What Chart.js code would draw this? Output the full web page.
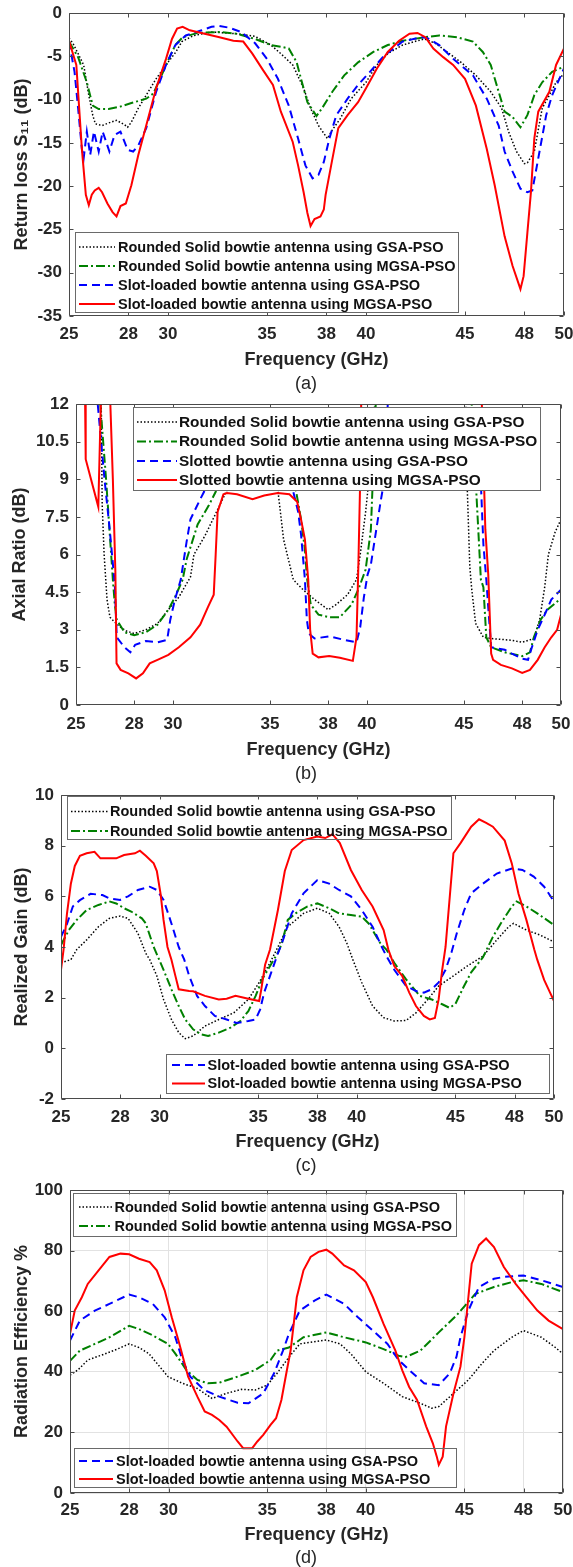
<!DOCTYPE html>
<html>
<head>
<meta charset="utf-8">
<title>Bowtie antenna comparison</title>
<script src="https://cdn.jsdelivr.net/npm/chart.js@4.4.1/dist/chart.umd.min.js"></script>
<style>
  body { margin: 0; background: #fff; }
  #page { position: relative; width: 573px; height: 1567px; overflow: hidden; background: #fff; }
  canvas { position: absolute; left: 0; }
  .cap { position: absolute; left: 276px; width: 60px; text-align: center; line-height: 20px;
         font: 18px "Liberation Sans", Arial, sans-serif; color: #262626; }
</style>
</head>
<body>
<div id="page">
  <canvas id="chartA" width="573" height="380" style="top:0px"></canvas>
  <div class="cap" style="top:373px">(a)</div>
  <canvas id="chartB" width="573" height="380" style="top:390px"></canvas>
  <div class="cap" style="top:763px">(b)</div>
  <canvas id="chartC" width="573" height="380" style="top:780px"></canvas>
  <div class="cap" style="top:1155px">(c)</div>
  <canvas id="chartD" width="573" height="380" style="top:1175px"></canvas>
  <div class="cap" style="top:1547px">(d)</div>
</div>
<script>
// shared axis ticks
const freqTicks = [25, 28, 30, 35, 38, 40, 45, 48, 50];
const s11Ticks = [-35, -30, -25, -20, -15, -10, -5, 0];
const arTicks = [0, 1.5, 3, 4.5, 6, 7.5, 9, 10.5, 12];
const gainTicks = [-2, 0, 2, 4, 6, 8, 10];
const effTicks = [0, 20, 40, 60, 80, 100];

const namesSlotLoaded = [
  'Rounded Solid bowtie antenna using GSA-PSO',
  'Rounded Solid bowtie antenna using MGSA-PSO',
  'Slot-loaded bowtie antenna using GSA-PSO',
  'Slot-loaded bowtie antenna using MGSA-PSO'
];
const namesSlotted = [
  'Rounded Solid bowtie antenna using GSA-PSO',
  'Rounded Solid bowtie antenna using MGSA-PSO',
  'Slotted bowtie antenna using GSA-PSO',
  'Slotted bowtie antenna using MGSA-PSO'
];

// (a) return loss S11, dB
const s11SolidGsaX = [25, 25.2, 25.46, 25.74, 26.0, 26.2, 26.33, 26.67, 27.0, 27.4, 27.8, 27.96, 28.15, 28.5, 28.9,
  29.4, 30.0, 30.4, 30.7, 31.3, 32.2, 33.5, 34.4, 35.2, 35.7, 36.3, 36.85, 37.2, 37.6, 38.05, 38.3, 38.7, 39.25, 40.0,
  40.55, 41.1, 41.85, 42.6, 42.96, 43.5, 44.1, 44.8, 45.55, 46.3, 46.85, 47.2, 47.6, 48.0, 48.15, 48.5, 48.9, 49.26, 49.6, 50];
const s11SolidGsaY = [-2.9, -3.5, -4.7, -6, -9.5, -11.8, -12.8, -13.0, -12.7, -12.4, -12.9, -13.2, -12.6, -11, -9.5,
  -7.6, -5.7, -4.5, -3.3, -2.6, -2.2, -2.4, -2.7, -3.7, -4.7, -6, -8.7, -11, -13, -14.5, -13.5, -12.2, -9.9, -8,
  -6, -4.7, -3.7, -3.2, -3, -3.5, -4.5, -5.7, -7.2, -9.1, -11, -13.7, -16, -17.4, -17.3, -16, -11, -9.5, -8, -7];

const s11SolidMgsaX = [25, 25.46, 25.9, 26.2, 26.5, 27.0, 27.6, 28.15, 28.9, 29.26, 29.6, 30, 30.37, 30.74, 31.5,
  32.6, 33.5, 34.4, 35.2, 35.7, 36.1, 36.5, 36.67, 37.04, 37.5, 37.78, 38.3, 38.9, 39.6, 40.37, 41.1, 41.85, 42.96,
  43.7, 44.6, 45.4, 45.9, 46.3, 46.7, 47.0, 47.4, 47.8, 48.15, 48.5, 48.9, 49.4, 50];
const s11SolidMgsaY = [-3.3, -5.1, -8, -10.7, -11.1, -11.1, -10.8, -10.4, -9.9, -9.3, -7.6, -5.5, -3.7, -2.8, -2.3,
  -2.2, -2.4, -3, -3.7, -3.9, -4.1, -5.7, -7.2, -10.3, -11.9, -11, -9.1, -7.2, -5.7, -4.5, -3.7, -3.2, -2.8,
  -2.6, -2.8, -3.3, -4.5, -6, -9.1, -11.4, -12, -13.2, -11.8, -9.5, -8, -6.8, -6.2];

const s11SlotGsaX = [25, 25.28, 25.46, 25.65, 25.74, 25.9, 26.07, 26.26, 26.5, 26.7, 27.04, 27.3, 27.6, 27.96, 28.24,
  28.5, 28.9, 29.4, 29.9, 30.37, 30.9, 31.7, 32.2, 32.6, 33.1, 33.7, 34.4, 35, 35.55, 36.1, 36.57, 36.94, 37.3, 37.6,
  37.87, 38.15, 38.5, 39.07, 39.6, 40.2, 40.93, 41.85, 42.8, 43.1, 43.7, 44.4, 45.4, 46.1, 46.7, 47.0, 47.4, 47.8,
  48.15, 48.4, 48.7, 49.1, 49.4, 50];
const s11SlotGsaY = [-3.3, -6.8, -11, -15.7, -16.8, -13.7, -16.4, -13.7, -16, -13.7, -16, -14.1, -13.7, -15.8, -16,
  -15.3, -13.3, -9.1, -6, -3.7, -2.6, -2, -1.6, -1.5, -1.7, -2.2, -3.5, -5.3, -7.6, -10.7, -14.5, -17.6, -19.1, -18.7,
  -17.2, -14.5, -11.8, -9.9, -8.3, -6.8, -4.9, -3.3, -2.8, -2.9, -3.7, -5.3, -7.2, -9.9, -13, -16, -18.3, -20.3,
  -20.7, -20.5, -16.8, -11.8, -9.5, -6.4];

const s11SlotMgsaX = [25, 25.37, 25.65, 25.85, 26.0, 26.15, 26.3, 26.5, 26.67, 26.94, 27.2, 27.4, 27.6, 27.87, 28.15,
  28.5, 28.9, 29.4, 29.9, 30.2, 30.46, 30.74, 31.1, 31.85, 32.6, 33.3, 33.8, 34.26, 34.8, 35.3, 35.7, 36.3, 36.57,
  36.85, 37.04, 37.2, 37.4, 37.7, 37.87, 37.96, 38.24, 38.6, 39.07, 39.6, 40, 40.55, 41.1, 41.67, 42.2, 42.6, 43.0,
  43.4, 43.9, 44.4, 45, 45.55, 46.1, 46.5, 47.0, 47.4, 47.8, 47.96, 48.15, 48.33, 48.5, 48.7, 49.26, 49.6, 50];
const s11SlotMgsaY = [-3.2, -6, -15.7, -21, -22.2, -21, -20.5, -20.2, -20.7, -22, -23, -23.5, -22.3, -22, -19.9,
  -16.4, -13, -8.7, -5.3, -3, -1.8, -1.6, -2, -2.4, -2.8, -3.2, -3.3, -4.7, -6.6, -8.3, -11.4, -14.9, -17.6,
  -20.7, -23.1, -24.6, -23.8, -23.5, -22.7, -21, -17.6, -13.3, -11.8, -10.3, -8.7, -6.4, -4.5, -3.2, -2.4, -2.3, -2.8,
  -4.1, -5.1, -6, -7.6, -10.7, -15.7, -19.9, -25.8, -29.2, -31.9, -30.4, -25.4, -20.7, -14.5, -11.4, -9.1, -6, -4.1];

// (b) axial ratio, dB (values above 12 run off the top of the axes)
const arSolidGsaX = [25, 26.2, 26.35, 26.45, 26.6, 26.75, 27.0, 27.3, 27.6, 28.0, 28.6, 29.2, 29.76, 30.3, 30.9,
  31.08, 31.65, 32.4, 32.8, 33.05, 33.5, 34.5, 35.2, 35.4, 35.7, 36.2, 36.7, 37.3, 38.0, 38.4, 39.0, 39.46, 39.65,
  39.93, 40.1, 40.4, 40.6, 45.0, 45.1, 45.17, 45.3, 45.4, 45.6, 46.0, 46.4, 47.47, 48.0, 48.6, 48.9, 49.16, 49.35, 49.7, 50];
const arSolidGsaY = [20, 20, 8, 6, 4.2, 3.5, 3.3, 3.1, 2.95, 2.85, 3.0, 3.25, 3.8, 4.3, 5.1,
  6.0, 6.75, 7.95, 8.6, 9.1, 11, 11.5, 9.5, 8.6, 6.6, 5.0, 4.6, 4.2, 3.8, 4.0, 4.4, 5.0, 6.0,
  7.7, 9, 12, 20, 20, 12, 8.6, 5.5, 4.6, 3.25, 2.7, 2.65, 2.58, 2.5, 2.65, 3.4, 4.7, 6.0, 6.9, 7.4];

const arSolidMgsaX = [25, 26.1, 26.25, 26.55, 26.9, 27.0, 27.1, 27.5, 28.0, 28.6, 29.2, 29.76, 30.1, 30.5, 30.7,
  31.27, 31.84, 32.2, 33, 35.5, 36.35, 36.6, 36.8, 36.9, 37.1, 37.5, 38.05, 38.6, 39.2, 39.55, 39.93, 40.2, 40.45,
  40.6, 45.2, 45.4, 45.6, 45.87, 46.0, 46.15, 46.4, 47.1, 48.0, 48.4, 48.6, 48.95, 49.3, 50];
const arSolidMgsaY = [20, 20, 12, 9, 5.0, 4.0, 3.4, 2.9, 2.78, 2.9, 3.2, 3.8, 4.3, 5.0, 5.8,
  7.2, 7.95, 8.5, 11, 11, 8.5, 7.4, 6.2, 5.1, 4.0, 3.6, 3.5, 3.5, 4.0, 4.6, 5.4, 7.0, 12,
  20, 20, 12, 9, 5.0, 4.7, 2.7, 2.3, 2.1, 1.95, 2.1, 2.7, 3.4, 3.8, 4.25];

const arSlotGsaX = [25, 26.0, 26.12, 26.47, 26.75, 26.94, 27.0, 27.1, 27.5, 27.8, 28.05, 28.6, 29.2, 29.7, 29.86,
  30.1, 30.4, 30.7, 30.9, 31.4, 31.6, 32.5, 35.5, 36.2, 36.45, 36.6, 36.8, 36.9, 37.0, 37.3, 38.05, 38.8, 39.46,
  39.65, 39.84, 40.03, 40.2, 40.7, 40.9, 41.07, 41.2, 45.5, 45.7, 46.0, 46.15, 46.24, 46.4, 47.1, 47.47, 48.0,
  48.3, 48.5, 48.8, 49.16, 49.5, 50];
const arSlotGsaY = [20, 20, 12, 9.0, 6.9, 5.3, 4.8, 2.7, 2.3, 2.1, 2.4, 2.55, 2.5, 2.6, 3.4,
  4.2, 5.0, 6.5, 7.4, 8.2, 8.5, 11, 11, 8.5, 7.7, 6.8, 5.0, 3.4, 2.85, 2.65, 2.74, 2.6, 2.5,
  3.1, 4.3, 5.2, 5.6, 8.1, 9, 12, 20, 20, 12, 6.4, 5.0, 4.0, 2.3, 2.2, 2.05, 1.85,
  1.8, 2.3, 3.0, 3.6, 4.2, 4.6];

const arSlotMgsaX = [25, 25.42, 25.47, 25.5, 26.15, 26.28, 26.32, 26.7, 26.77, 26.9, 27.03, 27.09, 27.3, 27.7, 28.1,
  28.45, 28.8, 29.2, 29.76, 30.3, 30.9, 31.4, 31.8, 32.1, 32.2, 32.3, 32.6, 32.78, 33.3, 34.1, 34.7, 35.4, 36.0,
  36.4, 36.6, 36.8, 36.97, 37.07, 37.2, 37.5, 38.05, 38.6, 39.27, 39.46, 39.55, 39.65, 39.7, 39.75, 45.85, 45.92,
  46.1, 46.25, 46.4, 46.5, 46.9, 47.47, 48.0, 48.4, 48.8, 49.16, 49.5, 49.8, 50];
const arSlotMgsaY = [20, 20, 12, 9.8, 7.9, 12, 20, 20, 12, 9, 5.3, 1.66, 1.4, 1.26, 1.06,
  1.26, 1.66, 1.8, 2.0, 2.3, 2.7, 3.2, 3.9, 4.4, 6.0, 7.7, 8.4, 8.45, 8.4, 8.2, 8.35, 8.45, 8.4,
  8.1, 7.4, 6.6, 5.0, 3.0, 2.05, 1.9, 1.95, 1.88, 1.76, 2.7, 5.4, 9, 12, 20, 20, 12,
  7, 5.2, 2.05, 1.8, 1.6, 1.46, 1.28, 1.4, 1.8, 2.3, 2.7, 3.0, 3.6];

// (c) realized gain, dB
const gainSolidGsaX = [25, 25.5, 25.8, 26.3, 26.9, 27.45, 28.0, 28.4, 28.9, 29.3, 29.5, 29.86, 30.2, 30.6, 30.97,
  31.3, 31.7, 32.3, 33.0, 33.76, 34.5, 35.05, 35.6, 36.0, 36.5, 37.3, 38.0, 38.6, 39.1, 39.5, 39.8, 40.25, 40.8,
  41.36, 41.9, 42.5, 43.0, 43.6, 44.15, 44.9, 45.6, 46.4, 47.1, 47.7, 47.95, 48.6, 49.3, 50];
const gainSolidGsaY = [3.38, 3.5, 3.9, 4.28, 4.8, 5.13, 5.22, 5.13, 4.54, 3.75, 3.5, 2.86, 1.93, 1.14, 0.62,
  0.38, 0.49, 0.88, 1.14, 1.4, 1.93, 2.6, 3.38, 4.0, 4.8, 5.33, 5.53, 5.33, 4.8, 4.14, 3.5, 2.6, 1.67,
  1.21, 1.08, 1.1, 1.4, 1.93, 2.46, 2.86, 3.25, 3.64, 4.28, 4.8, 4.93, 4.67, 4.47, 4.2];

const gainSolidMgsaX = [25, 25.4, 25.8, 26.3, 26.9, 27.45, 27.8, 28.2, 28.56, 29.1, 29.3, 29.7, 30.2, 30.6, 30.97,
  31.3, 31.7, 32.1, 32.46, 33.0, 33.6, 34.1, 34.5, 34.87, 35.2, 35.6, 36.0, 36.2, 36.5, 36.9, 37.5, 38.0, 38.6,
  39.1, 39.7, 40.25, 40.6, 41.2, 41.5, 41.9, 42.5, 43.2, 43.8, 44.33, 44.7, 45.0, 45.4, 45.8, 46.4, 46.9, 47.3,
  47.86, 48.1, 48.6, 49.15, 50];
const gainSolidMgsaY = [4.08, 4.67, 5.07, 5.46, 5.66, 5.8, 5.72, 5.53, 5.4, 5.13, 4.93, 4.0, 3.1, 2.33, 1.67,
  1.14, 0.75, 0.55, 0.49, 0.62, 0.82, 1.08, 1.47, 2.07, 2.72, 3.25, 3.78, 4.14, 5.07, 5.33, 5.6, 5.72, 5.53,
  5.33, 5.26, 5.2, 4.93, 4.14, 3.9, 3.38, 2.72, 2.07, 1.93, 1.74, 1.6, 1.75, 2.4, 3.0, 3.6, 4.4, 4.93,
  5.6, 5.8, 5.6, 5.33, 4.87];

const gainSlotGsaX = [25, 25.3, 25.6, 25.96, 26.5, 27.1, 27.45, 28.0, 28.4, 28.9, 29.5, 29.86, 30.2, 30.6, 30.97,
  31.25, 31.5, 31.9, 32.3, 32.8, 33.4, 33.9, 34.5, 34.87, 35.1, 35.3, 35.6, 36.0, 36.26, 36.7, 37.3, 38.0, 38.6,
  39.1, 39.7, 40.25, 40.8, 41.27, 41.5, 41.9, 42.5, 43.0, 43.4, 43.8, 44.15, 44.5, 44.8, 45.07, 45.45, 45.8,
  46.4, 47.1, 47.86, 48.4, 48.97, 49.5, 50];
const gainSlotGsaY = [4.4, 4.9, 5.6, 5.85, 6.1, 6.05, 5.92, 5.86, 6.0, 6.25, 6.38, 6.25, 5.86, 4.93, 4.0,
  3.5, 2.86, 2.07, 1.67, 1.28, 1.14, 1.0, 1.08, 1.14, 1.54, 2.2, 2.86, 3.75, 4.28, 5.33, 6.12, 6.64, 6.5,
  6.25, 6.0, 5.46, 4.8, 4.0, 3.64, 3.1, 2.46, 2.26, 2.2, 2.33, 2.6, 3.1, 3.78, 4.54, 5.46, 6.12,
  6.5, 6.9, 7.1, 7.04, 6.78, 6.38, 5.8];

const gainSlotMgsaX = [25, 25.13, 25.3, 25.5, 25.7, 25.96, 26.3, 26.7, 27.0, 27.45, 27.8, 28.2, 28.75, 29.0, 29.3,
  29.7, 29.86, 30.05, 30.2, 30.4, 30.6, 30.8, 30.97, 31.5, 31.7, 32.3, 33.0, 33.4, 33.85, 34.5, 35.05, 35.15, 35.35,
  35.6, 36.0, 36.35, 36.7, 37.3, 38.0, 38.4, 38.77, 39.14, 39.7, 40.25, 40.8, 41.36, 41.6, 41.9, 42.3, 42.66,
  43.0, 43.4, 43.7, 43.96, 44.15, 44.33, 44.5, 44.9, 45.26, 45.8, 46.2, 46.56, 46.9, 47.5, 47.86, 48.2, 48.6,
  49.0, 49.15, 49.5, 49.8, 50];
const gainSlotMgsaY = [3.1, 3.9, 5.3, 6.5, 7.2, 7.6, 7.7, 7.76, 7.5, 7.5, 7.5, 7.63, 7.7, 7.8, 7.6,
  7.3, 7.0, 6.1, 5.07, 4.0, 3.5, 2.86, 2.33, 2.26, 2.25, 2.07, 1.93, 1.96, 2.07, 1.96, 1.87, 2.3, 3.3,
  3.9, 5.46, 7.0, 7.83, 8.22, 8.36, 8.3, 8.45, 8.1, 7.04, 6.25, 5.6, 4.67, 3.9, 3.25, 2.86, 2.2,
  1.67, 1.28, 1.14, 1.2, 1.93, 3.1, 4.0, 7.7, 8.1, 8.75, 9.04, 8.9, 8.75, 8.2, 7.3, 6.1, 5.07,
  3.9, 3.5, 2.7, 2.2, 1.87];

// (d) radiation efficiency, %
const effSolidGsaX = [25, 25.4, 25.9, 26.6, 27.4, 28.0, 28.5, 29.0, 29.97, 30.7, 31.46, 32.2, 32.94, 33.7, 34.4,
  35.0, 35.5, 36.1, 36.65, 38.0, 38.7, 39.25, 40.0, 40.9, 41.85, 42.77, 43.33, 43.7, 44.45, 45.2, 45.9, 46.5,
  47.4, 48.0, 48.9, 49.6, 50];
const effSolidGsaY = [38.9, 40.6, 43.9, 45.5, 47.5, 49.2, 48, 46, 38.4, 36.2, 34.5, 31.2, 32.9, 34.2, 34,
  35.6, 39.5, 44.8, 49.2, 50.5, 49.2, 45.9, 40, 36.2, 31.8, 29.6, 28, 28.5, 32.9, 37.3, 42.8, 47,
  51.4, 53.6, 51.4, 48.1, 45.9];

const effSolidMgsaX = [25, 25.5, 26.26, 27.0, 28.0, 28.5, 29.2, 29.97, 30.34, 30.9, 31.46, 32.0, 32.57, 33.5, 34.4,
  35.17, 35.5, 36.1, 36.84, 38.0, 38.9, 40.0, 40.9, 41.66, 42.0, 42.77, 43.7, 44.6, 45.55, 46.5, 47.4, 48.0, 48.9, 50];
const effSolidMgsaY = [43.6, 47, 49.2, 51.4, 55.2, 54.1, 52, 49.2, 46, 40.6, 37.3, 36.2, 36.4, 38.4, 40.6,
  43.9, 47, 48, 51.4, 53, 51.4, 49.7, 47.5, 45.3, 44.8, 47, 53, 58.6, 65.7, 68, 69.6, 70.2, 69, 66.3];

const effSlotGsaX = [25, 25.5, 26.26, 27.0, 28.0, 28.5, 29.2, 29.8, 30.34, 30.7, 31.1, 31.8, 32.57, 33.5, 34.05,
  34.8, 35.35, 35.8, 36.1, 36.65, 37.4, 38.0, 38.9, 39.6, 40.36, 41.1, 41.66, 42.2, 42.96, 43.7, 44.26, 44.6,
  44.8, 45.2, 45.74, 46.5, 47.0, 48.0, 48.9, 50];
const effSlotGsaY = [50.3, 56.9, 60.2, 62.4, 65.5, 64.6, 62.4, 58, 51.4, 43.9, 38.4, 34, 31.8, 29.8, 29.6,
  32.9, 39.5, 47, 52.5, 60.2, 63.5, 65.5, 62.4, 58, 53.6, 49.2, 43.9, 40.6, 36.2, 35.6, 39.5, 45,
  51.4, 60.2, 68, 70.7, 71.3, 71.8, 70.2, 68];

const effSlotMgsaX = [25, 25.24, 25.6, 25.9, 26.45, 27.0, 27.56, 28.0, 28.5, 29.04, 29.4, 29.8, 30.16, 30.5, 30.81,
  30.99, 31.46, 31.83, 32.2, 32.57, 32.94, 33.5, 33.78, 34.24, 34.5, 34.8, 35.17, 35.45, 35.72, 36.0, 36.19, 36.5,
  36.84, 37.2, 37.6, 38.0, 38.3, 38.9, 39.4, 40.0, 40.36, 40.9, 41.5, 41.85, 42.2, 42.6, 43.06, 43.4, 43.6, 43.7,
  43.9, 44.07, 44.45, 44.8, 45.0, 45.37, 45.74, 46.1, 46.5, 47.0, 47.6, 48.15, 48.7, 49.27, 50];
const effSlotMgsaY = [52.5, 60.2, 64.6, 69, 73.5, 77.9, 79, 78.8, 77.3, 76.2, 73.5, 66.9, 58, 50.3, 42.8,
  38.4, 31.8, 26.9, 25.8, 24.1, 21.9, 17, 14.8, 14.8, 17, 19.2, 22.5, 24.7, 30.7, 40.6, 47.1, 64.6,
  73.5, 77.9, 79.6, 80.3, 79, 75.1, 73.5, 69.6, 64.6, 55.8, 47, 40.5, 35, 30.7, 22, 16.4, 12, 9.3,
  12, 22, 33, 41.7, 51.4, 75.7, 81.8, 84, 81.2, 74.6, 69, 64.6, 60.2, 56.9, 54.1];

// line look of the four designs: dotted black, dash-dot green, dashed blue, solid red
const lineStyles = [
  { borderColor: '#000000', borderWidth: 1.5, borderDash: [1.5, 2] },
  { borderColor: '#008000', borderWidth: 2, borderDash: [9, 3, 2, 3] },
  { borderColor: '#0000ff', borderWidth: 2, borderDash: [8, 5] },
  { borderColor: '#ff0000', borderWidth: 2, borderDash: [] }
];

const FONT = '"Liberation Sans", Arial, Helvetica, sans-serif';
const TEXT = '#262626';
const W = 573, H = 380;

Chart.defaults.font.family = FONT;

// box around the axes with short inward tick marks on all four sides
const axesFrame = {
  id: 'axesFrame',
  afterDatasetsDraw(chart) {
    const { ctx, chartArea: a, scales } = chart;
    const L = Math.round(a.left) + 0.5, R = Math.round(a.right) - 0.5;
    const T = Math.round(a.top) + 0.5, B = Math.round(a.bottom) - 0.5;
    ctx.save();
    ctx.strokeStyle = '#4a4a4a';
    ctx.lineWidth = 1;
    ctx.beginPath();
    scales.x.ticks.forEach(t => {
      const px = Math.round(scales.x.getPixelForValue(t.value)) + 0.5;
      ctx.moveTo(px, B); ctx.lineTo(px, B - 4);
      ctx.moveTo(px, T); ctx.lineTo(px, T + 4);
    });
    scales.y.ticks.forEach(t => {
      const py = Math.round(scales.y.getPixelForValue(t.value)) + 0.5;
      ctx.moveTo(L, py); ctx.lineTo(L + 4, py);
      ctx.moveTo(R, py); ctx.lineTo(R - 4, py);
    });
    ctx.rect(L, T, R - L, B - T);
    ctx.stroke();
    ctx.restore();
  }
};

// framed legend boxes sitting inside the plot; opaque ones hide the curves behind them
function legendBoxes(boxes) {
  return {
    id: 'legendBoxes',
    afterDraw(chart) {
      const ctx = chart.ctx;
      boxes.forEach(b => {
        ctx.save();
        if (b.opaque) {
          ctx.fillStyle = '#ffffff';
          ctx.fillRect(b.left, b.top, b.right - b.left, b.bottom - b.top);
        }
        ctx.strokeStyle = '#6a6a6a';
        ctx.lineWidth = 1;
        ctx.strokeRect(b.left + 0.5, b.top + 0.5, b.right - b.left - 1, b.bottom - b.top - 1);
        b.items.forEach((di, k) => {
          const ds = chart.data.datasets[di];
          const y = b.rows[k];
          ctx.beginPath();
          ctx.setLineDash(ds.borderDash);
          ctx.strokeStyle = ds.borderColor;
          ctx.lineWidth = ds.borderWidth;
          ctx.moveTo(b.lineFrom, y);
          ctx.lineTo(b.lineTo, y);
          ctx.stroke();
          ctx.setLineDash([]);
          ctx.fillStyle = '#111111';
          ctx.font = 'bold ' + b.size + 'px ' + FONT;
          ctx.textBaseline = 'middle';
          ctx.textAlign = 'left';
          ctx.fillText(ds.label, b.textX, y + 0.5);
        });
        ctx.restore();
      });
    }
  };
}

function drawPanel(p) {
  const datasets = p.series.map((s, i) => Object.assign({
    label: p.names[i],
    data: s[0].map((f, k) => ({ x: f, y: s[1][k] })),
    pointRadius: 0,
    fill: false,
    tension: 0,
    order: 3 - i
  }, lineStyles[i]));

  const tickFont = { family: FONT, size: 17, weight: 'bold' };
  const titleFont = { family: FONT, size: 18, weight: 'bold' };

  new Chart(document.getElementById(p.id), {
    type: 'line',
    data: { datasets: datasets },
    options: {
      responsive: false,
      animation: false,
      devicePixelRatio: 1,
      events: [],
      layout: { padding: { top: p.area.t, right: W - p.area.r, left: 0, bottom: 0 } },
      plugins: { legend: { display: false }, tooltip: { enabled: false } },
      scales: {
        x: {
          type: 'linear', min: 25, max: 50,
          afterBuildTicks: s => { s.ticks = freqTicks.map(v => ({ value: v })); },
          afterFit: s => { s.height = H - p.area.b; s.paddingLeft = 0; s.paddingRight = 0; },
          grid: { display: p.grid, color: '#e2e2e2', drawTicks: false },
          border: { display: false },
          ticks: { font: tickFont, color: TEXT, padding: p.xLabelPad, maxRotation: 0, autoSkip: false },
          title: { display: true, text: 'Frequency (GHz)', font: titleFont, color: TEXT,
                   padding: { top: 0, bottom: p.xTitlePad } }
        },
        y: {
          min: p.yTicks[0], max: p.yTicks[p.yTicks.length - 1],
          afterBuildTicks: s => { s.ticks = p.yTicks.map(v => ({ value: v })); },
          afterFit: s => { s.width = p.area.l; s.paddingTop = 0; s.paddingBottom = 0; },
          grid: { display: p.grid, color: '#e2e2e2', drawTicks: false },
          border: { display: false },
          ticks: { font: tickFont, color: TEXT, padding: 7 },
          title: { display: true, text: p.yTitle, font: titleFont, color: TEXT,
                   padding: { top: p.yTitlePad, bottom: 0 } }
        }
      }
    },
    plugins: [axesFrame, legendBoxes(p.legend)]
  });
}

drawPanel({
  id: 'chartA', names: namesSlotLoaded, yTicks: s11Ticks, yTitle: 'Return loss S\u2081\u2081 (dB)',
  series: [[s11SolidGsaX, s11SolidGsaY], [s11SolidMgsaX, s11SolidMgsaY], [s11SlotGsaX, s11SlotGsaY], [s11SlotMgsaX, s11SlotMgsaY]],
  area: { l: 69, r: 564, t: 13, b: 316 }, xLabelPad: 8, xTitlePad: 9, yTitlePad: 11, grid: false,
  legend: [{ left: 75, right: 459, top: 232, bottom: 313, rows: [247, 266, 285, 304], items: [0, 1, 2, 3],
             lineFrom: 79, lineTo: 115, textX: 118, size: 14.5, opaque: true }]
});

drawPanel({
  id: 'chartB', names: namesSlotted, yTicks: arTicks, yTitle: 'Axial Ratio (dB)',
  series: [[arSolidGsaX, arSolidGsaY], [arSolidMgsaX, arSolidMgsaY], [arSlotGsaX, arSlotGsaY], [arSlotMgsaX, arSlotMgsaY]],
  area: { l: 76, r: 561, t: 14, b: 315 }, xLabelPad: 9, xTitlePad: 9, yTitlePad: 9, grid: false,
  legend: [{ left: 133, right: 541, top: 17, bottom: 101, rows: [32, 51.5, 71, 90], items: [0, 1, 2, 3],
             lineFrom: 137, lineTo: 177, textX: 179, size: 15.4, opaque: true }]
});

drawPanel({
  id: 'chartC', names: namesSlotLoaded, yTicks: gainTicks, yTitle: 'Realized Gain (dB)',
  series: [[gainSolidGsaX, gainSolidGsaY], [gainSolidMgsaX, gainSolidMgsaY], [gainSlotGsaX, gainSlotGsaY], [gainSlotMgsaX, gainSlotMgsaY]],
  area: { l: 61, r: 554, t: 15, b: 319 }, xLabelPad: 8, xTitlePad: 7, yTitlePad: 11, grid: false,
  legend: [
    { left: 67, right: 452, top: 16, bottom: 60, rows: [31.5, 51], items: [0, 1],
      lineFrom: 71, lineTo: 108, textX: 110, size: 14.5, opaque: false },
    { left: 166, right: 550, top: 274, bottom: 314, rows: [285, 303.5], items: [2, 3],
      lineFrom: 172, lineTo: 205, textX: 207.5, size: 14.5, opaque: false }
  ]
});

drawPanel({
  id: 'chartD', names: namesSlotLoaded, yTicks: effTicks, yTitle: 'Radiation Efficiency %',
  series: [[effSolidGsaX, effSolidGsaY], [effSolidMgsaX, effSolidMgsaY], [effSlotGsaX, effSlotGsaY], [effSlotMgsaX, effSlotMgsaY]],
  area: { l: 70, r: 563, t: 15, b: 318 }, xLabelPad: 7, xTitlePad: 9, yTitlePad: 11, grid: true,
  legend: [
    { left: 73, right: 457, top: 18, bottom: 62, rows: [32, 51], items: [0, 1],
      lineFrom: 79, lineTo: 112, textX: 114.5, size: 14.5, opaque: false },
    { left: 74, right: 457, top: 273, bottom: 313, rows: [286, 304], items: [2, 3],
      lineFrom: 79, lineTo: 113, textX: 116, size: 14.5, opaque: false }
  ]
});
</script>
</body>
</html>
